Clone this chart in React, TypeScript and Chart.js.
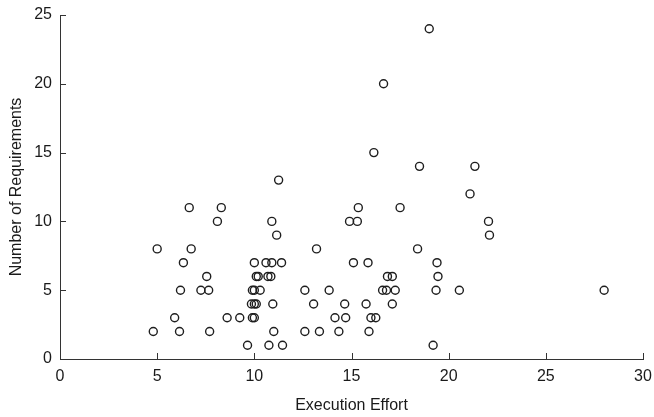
import React, { useEffect, useRef } from "react";
import { Chart, registerables } from "chart.js";

Chart.register(...registerables);

// Execution effort (x) and number of requirements (y) for each point
const effort: number[] = [
  9.65, 10.75, 11.45, 19.2,
  4.8, 6.15, 7.7, 11.0, 12.6, 13.35, 14.35, 15.9,
  5.9, 8.6, 9.25, 9.9, 10.0, 14.15, 14.7, 16.0, 16.25,
  9.85, 10.0, 10.1, 10.95, 13.05, 14.65, 15.75, 17.1,
  6.2, 7.25, 7.65, 9.9, 10.0, 10.3, 12.6, 13.85, 16.6, 16.8, 17.25, 19.35, 20.55, 28.0,
  7.55, 10.1, 10.2, 10.7, 10.85, 16.85, 17.1, 19.45,
  6.35, 10.0, 10.6, 10.9, 11.4, 15.1, 15.85, 19.4,
  5.0, 6.75, 13.2, 18.4,
  11.15, 22.1,
  8.1, 10.9, 14.9, 15.3, 22.05,
  6.65, 8.3, 15.35, 17.5,
  21.1,
  11.25,
  18.5, 21.35,
  16.15,
  16.65,
  19.0,
];

const requirements: number[] = [
  1, 1, 1, 1,
  2, 2, 2, 2, 2, 2, 2, 2,
  3, 3, 3, 3, 3, 3, 3, 3, 3,
  4, 4, 4, 4, 4, 4, 4, 4,
  5, 5, 5, 5, 5, 5, 5, 5, 5, 5, 5, 5, 5, 5,
  6, 6, 6, 6, 6, 6, 6, 6,
  7, 7, 7, 7, 7, 7, 7, 7,
  8, 8, 8, 8,
  9, 9,
  10, 10, 10, 10, 10,
  11, 11, 11, 11,
  12,
  13,
  14, 14,
  15,
  20,
  24,
];

const xTicks: number[] = [0, 5, 10, 15, 20, 25, 30];
const yTicks: number[] = [0, 5, 10, 15, 20, 25];

const xTitle = "Execution Effort";
const yTitle = "Number of Requirements";

const AXIS_COLOR = "#333333";
const TEXT_COLOR = "#1a1a1a";

const inwardTicks = {
  id: "inwardTicks",
  afterDraw(chart: any) {
    const { ctx, chartArea, scales } = chart;
    const len = 6;
    ctx.save();
    ctx.strokeStyle = AXIS_COLOR;
    ctx.lineWidth = 1;
    ctx.beginPath();
    for (const v of xTicks) {
      const px = Math.round(scales.x.getPixelForValue(v)) + 0.5;
      ctx.moveTo(px, chartArea.bottom);
      ctx.lineTo(px, chartArea.bottom - len);
    }
    for (const v of yTicks) {
      const py = Math.round(scales.y.getPixelForValue(v)) + 0.5;
      ctx.moveTo(chartArea.left, py);
      ctx.lineTo(chartArea.left + len, py);
    }
    ctx.stroke();
    ctx.restore();
  },
};

export default function App() {
  const ref = useRef<HTMLCanvasElement | null>(null);

  useEffect(() => {
    if (!ref.current) return;
    Chart.defaults.font.family = "'Liberation Sans', Arial, sans-serif";
    const points = effort.map((x, i) => ({ x, y: requirements[i] }));
    const chart = new Chart(ref.current, {
      type: "scatter",
      data: {
        datasets: [
          {
            data: points,
            pointStyle: "circle",
            pointRadius: 4,
            pointHoverRadius: 4,
            pointBorderWidth: 1.4,
            borderColor: "#1e1e1e",
            backgroundColor: "rgba(0,0,0,0)",
          },
        ],
      },
      options: {
        animation: false,
        responsive: false,
        maintainAspectRatio: false,
        layout: { padding: { left: 0, right: 11, top: 15, bottom: 0 } },
        plugins: {
          legend: { display: false },
          tooltip: { enabled: false },
        },
        scales: {
          x: {
            type: "linear",
            min: 0,
            max: 30,
            afterBuildTicks: (scale: any) => {
              scale.ticks = xTicks.map((v) => ({ value: v }));
            },
            afterFit: (scale: any) => {
              scale.height = 58;
              scale.paddingLeft = 0;
              scale.paddingRight = 0;
            },
            grid: { display: true, drawOnChartArea: false, drawTicks: false },
            border: { display: true, color: AXIS_COLOR, width: 1 },
            ticks: {
              color: TEXT_COLOR,
              font: { size: 16 },
              padding: 8,
              maxRotation: 0,
              autoSkip: false,
            },
            title: {
              display: true,
              text: xTitle,
              color: TEXT_COLOR,
              font: { size: 16 },
              padding: { top: 0, bottom: 2 },
            },
          },
          y: {
            type: "linear",
            min: 0,
            max: 25,
            afterBuildTicks: (scale: any) => {
              scale.ticks = yTicks.map((v) => ({ value: v }));
            },
            afterFit: (scale: any) => {
              scale.width = 60;
              scale.paddingTop = 0;
              scale.paddingBottom = 0;
            },
            grid: { display: true, drawOnChartArea: false, drawTicks: false },
            border: { display: true, color: AXIS_COLOR, width: 1 },
            ticks: {
              color: TEXT_COLOR,
              font: { size: 16 },
              padding: 8,
              autoSkip: false,
            },
            title: {
              display: true,
              text: yTitle,
              color: TEXT_COLOR,
              font: { size: 16 },
              padding: { top: 7, bottom: 0 },
            },
          },
        },
      },
      plugins: [inwardTicks],
    });
    return () => chart.destroy();
  }, []);

  return (
    <div style={{ position: "absolute", left: 0, top: 0, width: 654, height: 417, background: "#fff" }}>
      <canvas ref={ref} width={654} height={417} style={{ width: 654, height: 417, display: "block" }} />
    </div>
  );
}
